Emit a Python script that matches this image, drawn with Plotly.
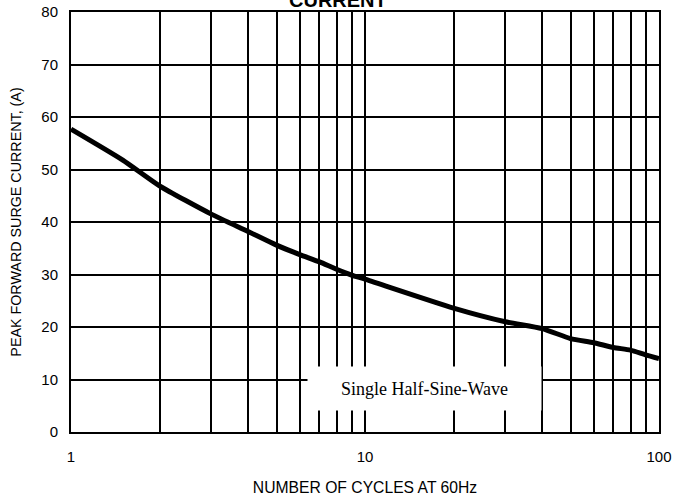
import plotly.graph_objects as go

# Data
cycles = [1, 1.5, 2, 3, 4, 5, 6, 7, 8, 9, 10, 20, 30, 40, 50, 60, 70, 80, 90, 100]
current = [57.7, 51.8, 46.9, 41.5, 38.2, 35.6, 33.8, 32.4, 31.0, 29.9, 29.1,
           23.6, 21.0, 19.7, 17.8, 17.0, 16.1, 15.6, 14.7, 14.0]

major_x = [1, 10, 100]
major_x_text = ["1", "10", "100"]
minor_x = [2, 3, 4, 5, 6, 7, 8, 9, 20, 30, 40, 50, 60, 70, 80, 90]
y_ticks = [0, 10, 20, 30, 40, 50, 60, 70, 80]

fig = go.Figure()
fig.add_trace(go.Scatter(
    x=cycles, y=current, mode="lines",
    line=dict(color="black", width=5, shape="spline", smoothing=0.6),
    showlegend=False, hoverinfo="skip"))

fig.update_layout(
    width=689, height=498,
    margin=dict(l=71, r=30, t=12, b=66),
    paper_bgcolor="white", plot_bgcolor="white",
    font=dict(family="Liberation Sans, Arial, sans-serif", color="black"),
    xaxis=dict(
        type="log", range=[0, 2], automargin=False,
        tickvals=major_x, ticktext=major_x_text,
        tickfont=dict(size=15), ticks="outside", ticklen=10, tickcolor="white",
        showgrid=True, gridcolor="black", gridwidth=2,
        minor=dict(tickvals=minor_x, showgrid=True, gridcolor="black",
                   gridwidth=2, ticks=""),
        showline=True, linecolor="black", linewidth=2, mirror=True,
        zeroline=False,
        title=dict(text="NUMBER OF CYCLES AT 60Hz",
                   font=dict(size=15.7), standoff=18),
    ),
    yaxis=dict(
        range=[0, 80], tickvals=y_ticks, automargin=False,
        tickfont=dict(size=15), ticks="outside", ticklen=8, tickcolor="white",
        showgrid=True, gridcolor="black", gridwidth=2,
        showline=True, linecolor="black", linewidth=2, mirror=True,
        zeroline=False,
        title=dict(text="PEAK FORWARD SURGE CURRENT, (A)",
                   font=dict(size=14.3), standoff=16),
    ),
)

fig.add_annotation(
    x=1.2024, y=8.29, xref="x", yref="y",
    text="Single Half-Sine-Wave", showarrow=False,
    font=dict(family="Liberation Serif, Times New Roman, serif", size=18, color="black"),
    bgcolor="white", width=233, height=43, borderpad=0,
)

fig.add_annotation(
    x=0.4541, y=1.0286, xref="paper", yref="paper",
    text="<b>CURRENT</b>", showarrow=False,
    font=dict(size=20, color="black"),
    yanchor="middle",
)

fig.write_html("out.html", config={"displayModeBar": False},
               post_script="document.body.style.margin='0';document.body.style.overflow='hidden';")
